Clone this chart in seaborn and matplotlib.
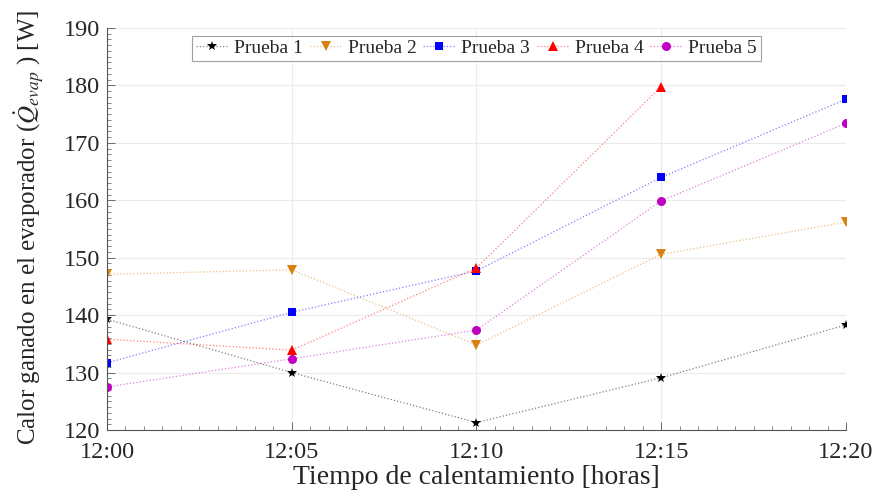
import numpy as np
import pandas as pd
import matplotlib
matplotlib.use("Agg")
import matplotlib.pyplot as plt
from matplotlib.ticker import MultipleLocator
import seaborn as sns

# Heating time (minutes after 12:00) and tick labels
minutes = [0, 5, 10, 15, 20]
tick_labels = ["12:00", "12:05", "12:10", "12:15", "12:20"]

# Heat gained in the evaporator [W] for each test run
prueba_1 = [139.3, 130.0, 121.3, 129.1, 138.3]
prueba_2 = [147.1, 147.9, 134.8, 150.6, 156.2]
prueba_3 = [131.7, 140.5, 147.7, 164.0, 177.6]
prueba_4 = [135.8, 133.9, 148.2, 179.8, np.nan]
prueba_5 = [127.5, 132.4, 137.4, 159.9, 173.4]

series_names = ["Prueba 1", "Prueba 2", "Prueba 3", "Prueba 4", "Prueba 5"]
series_values = [prueba_1, prueba_2, prueba_3, prueba_4, prueba_5]
colors = ["#000000", "#D98011", "#0000FF", "#FF0000", "#C000C0"]
markers = ["*", "v", "s", "^", "o"]
marker_sizes = [7, 6.5, 5.2, 7, 6.5]

df = pd.DataFrame(
    [(m, v, name) for name, vals in zip(series_names, series_values)
     for m, v in zip(minutes, vals)],
    columns=["minuto", "calor", "prueba"],
)

sns.set_theme(style="whitegrid")
plt.rcParams["font.family"] = ["Liberation Serif", "DejaVu Serif"]
plt.rcParams["mathtext.fontset"] = "stix"

fig = plt.figure(figsize=(8.81, 4.93), dpi=100)
ax = fig.add_axes([107 / 881, 63 / 493, (846 - 107) / 881, (430 - 28) / 493])

for name, col, mk, ms in zip(series_names, colors, markers, marker_sizes):
    sub = df[df["prueba"] == name].dropna()
    sns.lineplot(data=sub, x="minuto", y="calor", ax=ax, color=col,
                 linestyle=":", linewidth=0.9,
                 marker=mk, markersize=ms, markeredgewidth=0,
                 markerfacecolor=col, label=name, sort=False)

# soften the connecting lines while keeping markers solid
for ln in ax.lines:
    c = matplotlib.colors.to_rgba(ln.get_color())
    ln.set_color((c[0], c[1], c[2], 0.5))
    ln.set_markerfacecolor((c[0], c[1], c[2], 1.0))
    ln.set_markeredgecolor((c[0], c[1], c[2], 1.0))

ax.set_xlim(0, 20)
ax.set_ylim(120, 190)
ax.set_xticks(minutes)
ax.set_xticklabels(tick_labels)
ax.xaxis.set_minor_locator(MultipleLocator(0.5))
ax.yaxis.set_major_locator(MultipleLocator(10))
ax.yaxis.set_minor_locator(MultipleLocator(1))

ax.grid(True, which="major", color="#ebebeb", linewidth=0.8)
ax.grid(False, which="minor")
ax.set_facecolor("white")
for side in ["top", "right"]:
    ax.spines[side].set_visible(False)
for side in ["left", "bottom"]:
    ax.spines[side].set_visible(True)
    ax.spines[side].set_color("#555555")
    ax.spines[side].set_linewidth(0.8)

ax.tick_params(axis="both", which="major", direction="in", length=6,
               width=0.6, color="#555555", labelsize=17.5, labelcolor="#262626",
               left=True, bottom=True)
ax.tick_params(axis="x", which="major", pad=9)
ax.tick_params(axis="y", which="major", pad=5)
ax.tick_params(axis="both", which="minor", direction="in", length=3,
               width=0.5, color="#555555", left=True, bottom=True)

ax.set_xlabel("Tiempo de calentamiento [horas]", fontsize=20, color="#262626",
              labelpad=1)
ax.set_ylabel(r"Calor ganado en el evaporador ($\dot{Q}_{evap}$ ) [W]",
              fontsize=18, color="#262626")
ax.yaxis.set_label_coords(-0.083, 0.505)

leg = ax.legend(loc="upper center", ncol=5, fontsize=14, frameon=True,
                fancybox=False, edgecolor="#888888", handlelength=1.65,
                handletextpad=0.3, columnspacing=0.35, borderpad=0.2,
                borderaxespad=0.4, bbox_to_anchor=(0.5, 1.0))
leg.get_frame().set_linewidth(0.8)

fig.savefig("out.png", dpi=100)
